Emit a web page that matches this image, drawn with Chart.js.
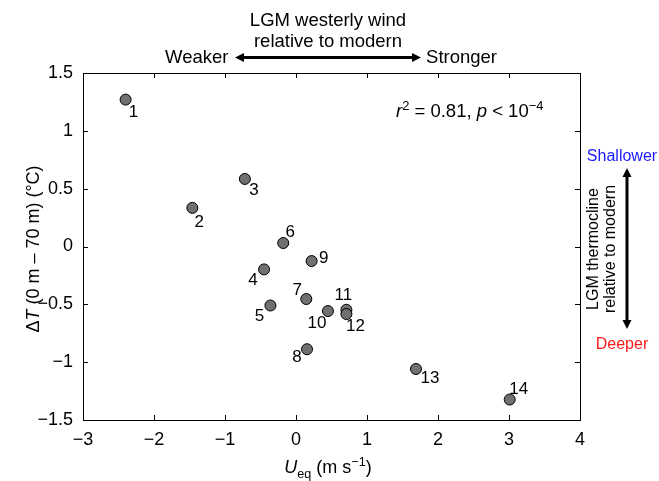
<!DOCTYPE html>
<html>
<head>
<meta charset="utf-8">
<script src="https://cdn.jsdelivr.net/npm/chart.js@4.4.1/dist/chart.umd.min.js"></script>
<style>
  html, body { margin: 0; padding: 0; background: #fff; }
  #wrap { width: 659px; height: 481px; position: relative; }
</style>
</head>
<body>
<div id="wrap"><canvas id="scatter"></canvas></div>
<script>
// data
const siteIds = ['1', '2', '3', '4', '5', '6', '7', '8', '9', '10', '11', '12', '13', '14'];
const uEq = [-2.40, -1.46, -0.72, -0.45, -0.36, -0.18, 0.145, 0.155, 0.22, 0.45, 0.71, 0.71, 1.69, 3.01];
const deltaT = [1.27, 0.334, 0.584, -0.198, -0.51, 0.03, -0.454, -0.888, -0.126, -0.558, -0.547, -0.584, -1.059, -1.323];
const xTicks = [-3, -2, -1, 0, 1, 2, 3, 4];
const yTicks = [-1.5, -1, -0.5, 0, 0.5, 1, 1.5];

// label offsets from each marker (px)
const labelDx = [8, 7, 9, -11, -11, 7, -9, -10, 12, -11, -3, 9, 14, 9];
const labelDy = [13, 14, 11, 11, 11, -11, -9, 8, -3, 12, -14, 12, 9, -10];

const FONT = '"Liberation Sans", Arial, Helvetica, sans-serif';

function fmt(v) {
  return String(v).replace('-', '\u2212');
}

// draws text made of runs: {t, it, sup, sub}
function drawRuns(ctx, x, y, runs, size, align) {
  const pieces = runs.map(function (r) {
    const s = (r.sup || r.sub) ? size * 0.7 : size;
    const f = (r.it ? 'italic ' : '') + s + 'px ' + FONT;
    ctx.font = f;
    return { t: r.t, f: f, w: ctx.measureText(r.t).width, dy: r.sup ? -size * 0.4 : (r.sub ? size * 0.25 : 0) };
  });
  const total = pieces.reduce(function (a, p) { return a + p.w; }, 0);
  let cx = align === 'center' ? x - total / 2 : (align === 'right' ? x - total : x);
  ctx.textAlign = 'left';
  ctx.textBaseline = 'alphabetic';
  pieces.forEach(function (p) {
    ctx.font = p.f;
    ctx.fillText(p.t, cx, y + p.dy);
    cx += p.w;
  });
}

function arrowHead(ctx, x, y, ang) {
  const L = 9, W = 4.5;
  ctx.save();
  ctx.translate(x, y);
  ctx.rotate(ang);
  ctx.beginPath();
  ctx.moveTo(0, 0);
  ctx.lineTo(-L, -W);
  ctx.lineTo(-L, W);
  ctx.closePath();
  ctx.fill();
  ctx.restore();
}

const framePlugin = {
  id: 'frame',
  afterDatasetsDraw(chart) {
    const ctx = chart.ctx;
    const a = chart.chartArea;
    const xs = chart.scales.x, ys = chart.scales.y;
    ctx.save();
    ctx.strokeStyle = '#000';
    ctx.lineWidth = 1;
    ctx.strokeRect(a.left + 0.5, a.top + 0.5, a.right - a.left, a.bottom - a.top);
    ctx.beginPath();
    xTicks.forEach(function (v) {
      const px = Math.round(xs.getPixelForValue(v)) + 0.5;
      ctx.moveTo(px, a.bottom); ctx.lineTo(px, a.bottom - 5);
      ctx.moveTo(px, a.top); ctx.lineTo(px, a.top + 5);
    });
    yTicks.forEach(function (v) {
      const py = Math.round(ys.getPixelForValue(v)) + 0.5;
      ctx.moveTo(a.left, py); ctx.lineTo(a.left + 5, py);
      ctx.moveTo(a.right, py); ctx.lineTo(a.right - 5, py);
    });
    ctx.stroke();

    // point labels
    ctx.fillStyle = '#000';
    ctx.font = '17px ' + FONT;
    ctx.textAlign = 'center';
    ctx.textBaseline = 'middle';
    siteIds.forEach(function (id, i) {
      const px = xs.getPixelForValue(uEq[i]);
      const py = ys.getPixelForValue(deltaT[i]);
      ctx.fillText(id, px + labelDx[i], py + labelDy[i]);
    });

    // statistics
    drawRuns(ctx, 396, 117, [
      { t: 'r', it: true }, { t: '2', sup: true }, { t: ' = 0.81, ' },
      { t: 'p', it: true }, { t: ' < 10' }, { t: '\u22124', sup: true }
    ], 18.5, 'left');

    // axis titles
    drawRuns(ctx, 328, 473, [
      { t: 'U', it: true }, { t: 'eq', sub: true }, { t: ' (m s' }, { t: '\u22121', sup: true }, { t: ')' }
    ], 18, 'center');
    ctx.save();
    ctx.translate(39, 249);
    ctx.rotate(-Math.PI / 2);
    drawRuns(ctx, 0, 0, [
      { t: '\u0394' }, { t: 'T', it: true }, { t: ' (0 m \u2013 70 m) (\u00b0C)' }
    ], 18, 'center');
    ctx.restore();

    // top annotation
    ctx.font = '18.5px ' + FONT;
    ctx.textAlign = 'center';
    ctx.textBaseline = 'alphabetic';
    ctx.fillText('LGM westerly wind', 328, 26);
    ctx.fillText('relative to modern', 328, 47);
    ctx.textAlign = 'left';
    ctx.fillText('Weaker', 165, 63);
    ctx.textAlign = 'right';
    ctx.fillText('Stronger', 497, 63);
    ctx.lineWidth = 3;
    ctx.beginPath();
    ctx.moveTo(242, 57.5); ctx.lineTo(414, 57.5);
    ctx.stroke();
    arrowHead(ctx, 235, 57.5, Math.PI);
    arrowHead(ctx, 421, 57.5, 0);

    // right annotation
    ctx.font = '16px ' + FONT;
    ctx.textAlign = 'center';
    ctx.fillStyle = '#1a1aff';
    ctx.fillText('Shallower', 622, 161);
    ctx.fillStyle = '#ff1a1a';
    ctx.fillText('Deeper', 622, 349);
    ctx.fillStyle = '#000';
    ctx.beginPath();
    ctx.moveTo(627, 175); ctx.lineTo(627, 322);
    ctx.stroke();
    arrowHead(ctx, 627, 168, -Math.PI / 2);
    arrowHead(ctx, 627, 329, Math.PI / 2);
    ctx.save();
    ctx.translate(598, 249);
    ctx.rotate(-Math.PI / 2);
    ctx.fillText('LGM thermocline', 0, 0);
    ctx.fillText('relative to modern', 0, 17);
    ctx.restore();
    ctx.restore();
  }
};

new Chart(document.getElementById('scatter'), {
  type: 'scatter',
  data: {
    datasets: [{
      data: uEq.map(function (x, i) { return { x: x, y: deltaT[i] }; }),
      backgroundColor: '#707070',
      borderColor: '#000000',
      borderWidth: 1,
      pointRadius: 5.5,
      pointHoverRadius: 5.5
    }]
  },
  options: {
    responsive: true,
    maintainAspectRatio: false,
    animation: false,
    layout: { padding: { top: 73, right: 79, bottom: 0, left: 0 } },
    plugins: { legend: { display: false }, tooltip: { enabled: false } },
    scales: {
      x: {
        type: 'linear',
        min: -3,
        max: 4,
        afterBuildTicks: function (s) { s.ticks = xTicks.map(function (v) { return { value: v }; }); },
        afterFit: function (s) { s.height = 61; },
        grid: { display: false, drawTicks: false },
        border: { display: false },
        ticks: {
          color: '#000',
          padding: 9,
          font: { family: FONT, size: 18 },
          callback: function (v) { return fmt(v); }
        }
      },
      y: {
        type: 'linear',
        min: -1.5,
        max: 1.5,
        afterBuildTicks: function (s) { s.ticks = yTicks.map(function (v) { return { value: v }; }); },
        afterFit: function (s) { s.width = 83; },
        grid: { display: false, drawTicks: false },
        border: { display: false },
        ticks: {
          color: '#000',
          padding: 10,
          font: { family: FONT, size: 18 },
          callback: function (v) { return fmt(v); }
        }
      }
    }
  },
  plugins: [framePlugin]
});
</script>
</body>
</html>
